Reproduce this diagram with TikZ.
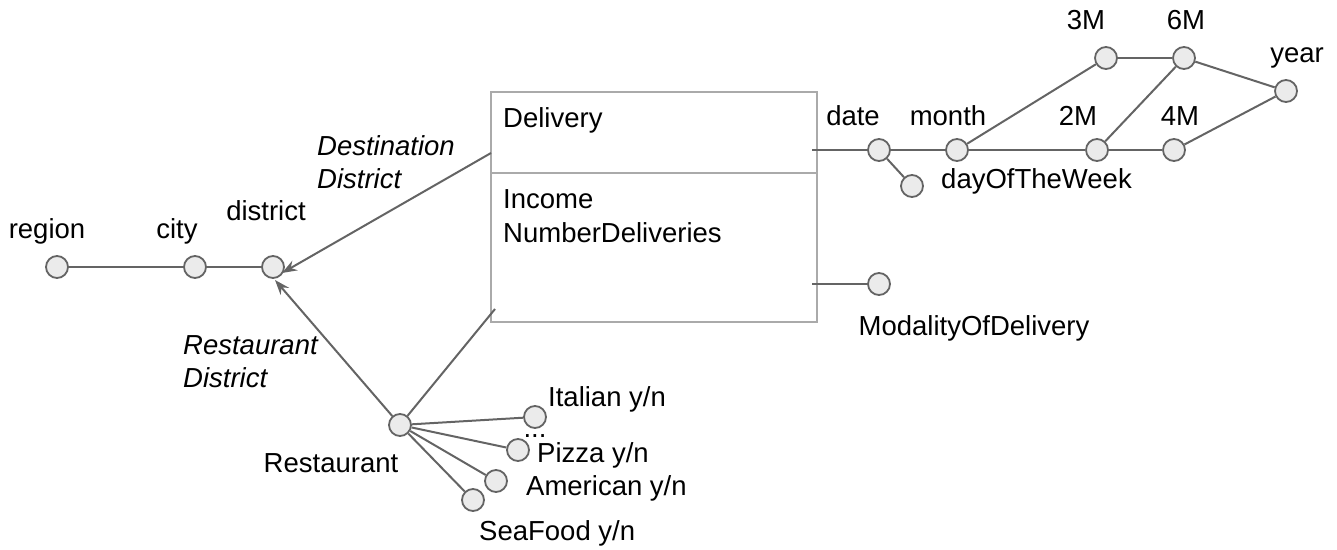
\documentclass[tikz,border=0pt]{standalone}
\usepackage{fontspec}
\setmainfont{Liberation Sans}
\usetikzlibrary{arrows.meta}
\definecolor{edgegray}{HTML}{646464}
\definecolor{boxgray}{HTML}{AAAAAA}
\definecolor{dotfill}{HTML}{EBEBEB}
\begin{document}
\begin{tikzpicture}[x=1pt,y=-1pt,
  attr/.style={circle,draw=edgegray,fill=dotfill,line width=1.8pt,minimum size=22pt,inner sep=0pt},
  lbl/.style={inner sep=0pt,font=\fontsize{27.5}{32}\selectfont},
  rolelbl/.style={lbl,font=\fontsize{27.5}{32}\selectfont\itshape,align=left},
  link/.style={draw=edgegray,line width=2pt},
  role/.style={link,-{Stealth[length=15pt,width=11pt,inset=5pt]}},
  factbox/.style={draw=boxgray,line width=2pt}]
\useasboundingbox (0,0) rectangle (1337,549);

% fact box
\draw[factbox] (491,92) rectangle (817,322);
\draw[factbox] (491,173) -- (817,173);
\node[lbl,anchor=base west] (fname) at (503,127) {Delivery};
\node[lbl,anchor=base west] (m1) at (503,208) {Income};
\node[lbl,anchor=base west] (m2) at (503,242) {NumberDeliveries};
\coordinate (boxdist) at (491,153);
\coordinate (boxrest) at (495,309);
\coordinate (boxdate) at (812,150);
\coordinate (boxmod) at (812,284);

% location hierarchy
\node[attr] (region) at (57,267) {};
\node[attr] (city) at (195,267) {};
\node[attr] (district) at (273,267) {};
\node[lbl,anchor=base] at (47,238) {region};
\node[lbl,anchor=base] at (177,238) {city};
\node[lbl,anchor=base] at (266,220) {district};
\draw[link] (region) -- (city);
\draw[link] (city) -- (district);

% restaurant dimension
\node[attr] (rest) at (400,425) {};
\node[lbl,anchor=base] at (331,472) {Restaurant};
\node[attr] (italian) at (535,417) {};
\node[attr] (pizza) at (518,450) {};
\node[attr] (american) at (496,481) {};
\node[attr] (seafood) at (473,500) {};
\node[lbl,anchor=base west] at (548,406) {Italian y/n};
\node[lbl,anchor=base] at (535,437) {...};
\node[lbl,anchor=base west] at (537,462) {Pizza y/n};
\node[lbl,anchor=base west] at (526,495) {American y/n};
\node[lbl,anchor=base west] at (479,540) {SeaFood y/n};
\draw[link] (rest) -- (italian);
\draw[link] (rest) -- (pizza);
\draw[link] (rest) -- (american);
\draw[link] (rest) -- (seafood);
\draw[link] (rest) -- (boxrest);

% roles towards district
\draw[role] (boxdist) -- (282,273);
\draw[role] (rest) -- (275,280);
\node[rolelbl,anchor=base west] at (317,155) {Destination};
\node[rolelbl,anchor=base west] at (317,188) {District};
\node[rolelbl,anchor=base west] at (183,354) {Restaurant};
\node[rolelbl,anchor=base west] at (183,387) {District};

% date hierarchy
\node[attr] (date) at (879,150) {};
\node[attr] (dow) at (912,186) {};
\node[attr] (month) at (957,150) {};
\node[attr] (m3) at (1106,58) {};
\node[attr] (m6) at (1184,58) {};
\node[attr] (year) at (1286,91) {};
\node[attr] (m2) at (1097,150) {};
\node[attr] (m4) at (1174,150) {};
\node[lbl,anchor=base] at (853,125) {date};
\node[lbl,anchor=base] at (948,125) {month};
\node[lbl,anchor=base] at (1078,125) {2M};
\node[lbl,anchor=base] at (1180,125) {4M};
\node[lbl,anchor=base] at (1086,29) {3M};
\node[lbl,anchor=base] at (1186,29) {6M};
\node[lbl,anchor=base] at (1297,62) {year};
\node[lbl,anchor=base west] at (941,188) {dayOfTheWeek};
\draw[link] (boxdate) -- (date);
\draw[link] (date) -- (month);
\draw[link] (date) -- (dow);
\draw[link] (month) -- (m3);
\draw[link] (month) -- (m2);
\draw[link] (m3) -- (m6);
\draw[link] (m2) -- (m6);
\draw[link] (m2) -- (m4);
\draw[link] (m6) -- (year);
\draw[link] (m4) -- (year);

% delivery modality
\node[attr] (mod) at (879,284) {};
\node[lbl,anchor=base] at (974,335) {ModalityOfDelivery};
\draw[link] (boxmod) -- (mod);
\end{tikzpicture}
\end{document}
